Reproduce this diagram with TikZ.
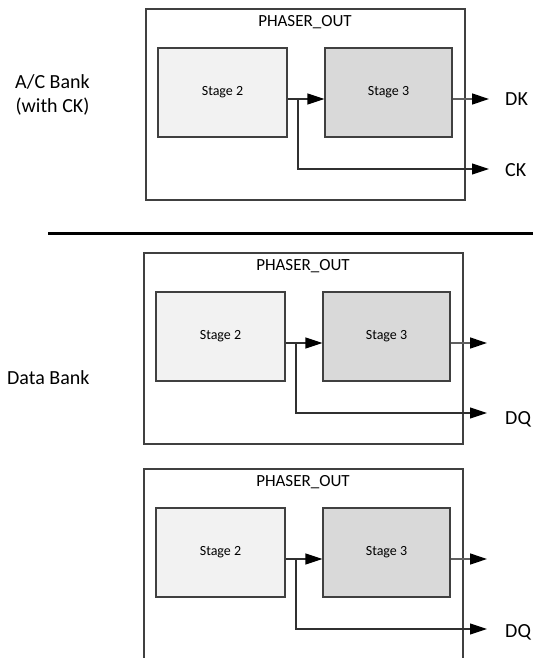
\documentclass[tikz,border=0pt]{standalone}
\usepackage{fontspec}
\setmainfont{Carlito}
\usetikzlibrary{arrows.meta}
\definecolor{boxline}{HTML}{404040}
\definecolor{fillA}{HTML}{F2F2F2}
\definecolor{fillB}{HTML}{D9D9D9}
\definecolor{wireA}{HTML}{303030}
\definecolor{wireB}{HTML}{606060}
\tikzset{
  outerbox/.style={draw=boxline,line width=1.2pt},
  stagebox/.style={draw=boxline,line width=1.1pt,inner sep=0pt,minimum height=89pt,font=\fontsize{14}{16}\selectfont},
  stagetwo/.style={stagebox,fill=fillA,minimum width=129pt},
  stagethree/.style={stagebox,fill=fillB,minimum width=127pt},
  wire/.style={draw=wireA,line width=1.1pt},
  outwire/.style={draw=wireB,line width=1.3pt},
  tip/.style={-{Triangle[length=17pt,width=11pt,black]}},
  title/.style={font=\fontsize{17}{20}\selectfont},
  biglabel/.style={font=\fontsize{20}{24}\selectfont,inner sep=0pt},
}
\newcommand{\phblock}[3]{% #1 X, #2 Y, #3 name prefix
  \draw[outerbox] (#1,#2) rectangle ++(319,191);
  \node[title] (#3t) at (#1+159,#2+13) {PHASER\_OUT};
  \node[stagetwo] (#3s2) at (#1+12+64.5,#2+39+44.5) {Stage 2};
  \node[stagethree] (#3s3) at (#1+179+63.5,#2+39+44.5) {Stage 3};
  \coordinate (#3j) at (#1+152,#2+90);
  \coordinate (#3o) at (#1+343,#2+90);
  \coordinate (#3b) at (#1+343,#2+160);
  \draw[wire] (#3s2.east|-#3j) -- (#3j);
  \draw[wire,tip] (#3j) -- (#3s3.west|-#3j);
  \draw[wire,tip] (#3j) |- (#3b);
  \draw[outwire,tip] (#3s3.east|-#3o) -- (#3o);
}
\begin{document}
\begin{tikzpicture}[x=1pt,y=-1pt]
\useasboundingbox (0,0) rectangle (533,658);
\fill[white] (0,0) rectangle (533,658);
\begin{scope}
\clip (0,0) rectangle (533,658);
\phblock{146}{9}{a}
\phblock{144}{253}{m}
\phblock{144}{469}{d}
\end{scope}
\node[biglabel,anchor=west] (dk) at (505,99) {DK};
\node[biglabel,anchor=west] (ck) at (505,170) {CK};
\node[biglabel,anchor=west] (dq1) at (505,419) {DQ};
\node[biglabel,anchor=west] (dq2) at (505,632) {DQ};
\node[biglabel,align=center] (ac) at (52.5,95) {A/C Bank\\(with CK)};
\node[biglabel,anchor=west] (db) at (7,378) {Data Bank};
\coordinate (sepL) at (48,233);
\coordinate (sepR) at (533,233);
\draw[line width=3pt,black] (sepL) -- (sepR);
\end{tikzpicture}
\end{document}
